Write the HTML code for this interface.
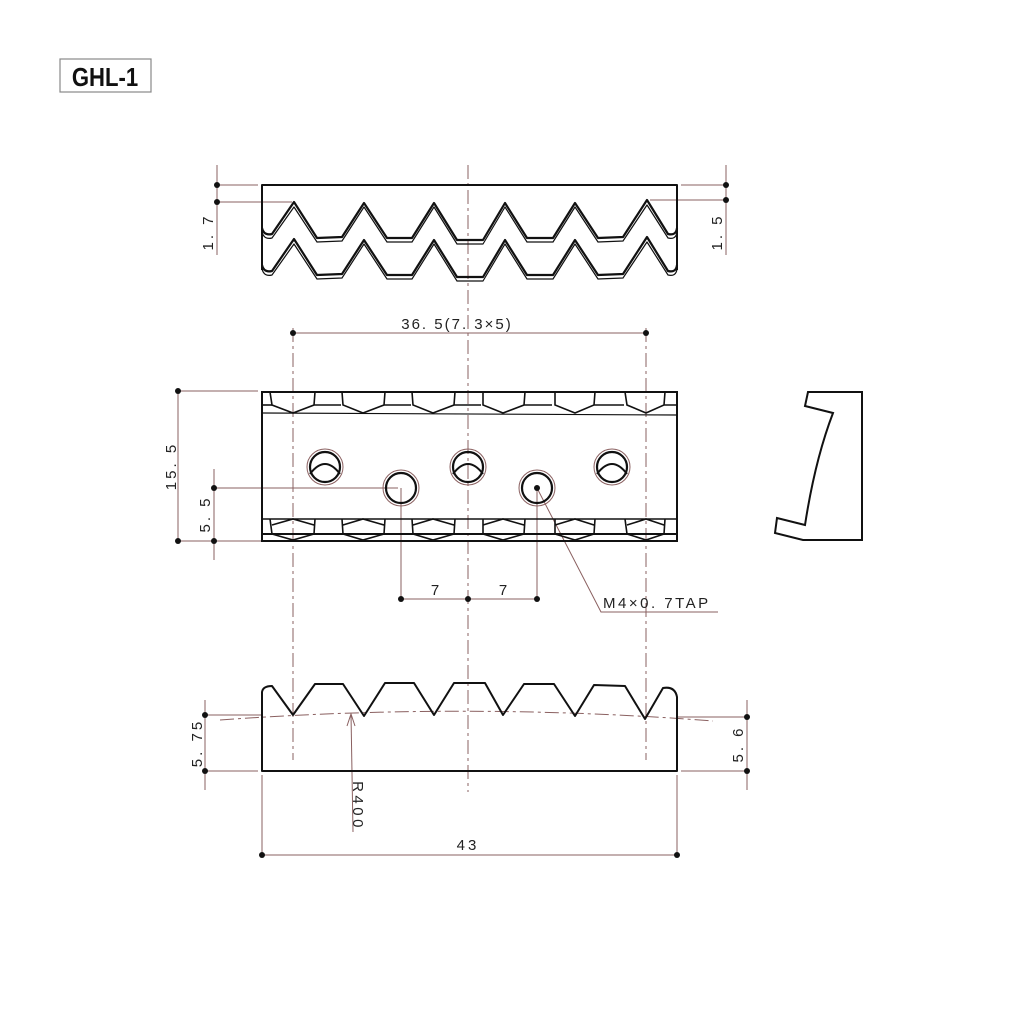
<!DOCTYPE html>
<html><head><meta charset="utf-8"><style>
html,body{margin:0;padding:0;background:#fff;}
svg{display:block;}
text{font-family:"Liberation Sans",sans-serif;fill:#222;}
</style></head><body>
<svg width="1024" height="1024" viewBox="0 0 1024 1024" xmlns="http://www.w3.org/2000/svg">
<rect width="1024" height="1024" fill="#fff"/>
<!-- Title -->
<rect x="60" y="59" width="91" height="33" fill="none" stroke="#888" stroke-width="1.2"/>
<text x="105" y="86" font-size="26" font-weight="bold" text-anchor="middle" transform="translate(105,0) scale(0.85,1) translate(-105,0)" style="fill:#111">GHL-1</text>

<g stroke="#8a6060" stroke-width="1" fill="none">
  <line x1="468" y1="165" x2="468" y2="792" stroke-dasharray="14,4,3,4"/>
  <line x1="217" y1="165" x2="217" y2="255"/>
  <line x1="217" y1="185" x2="258" y2="185"/>
  <line x1="217" y1="202" x2="292" y2="202"/>
  <line x1="726" y1="165" x2="726" y2="255"/>
  <line x1="681" y1="185" x2="726" y2="185"/>
  <line x1="650" y1="200" x2="726" y2="200"/>
  <line x1="293" y1="333" x2="646" y2="333"/>
  <line x1="293" y1="328" x2="293" y2="760" stroke-dasharray="14,4,3,4"/>
  <line x1="646" y1="328" x2="646" y2="760" stroke-dasharray="14,4,3,4"/>
  <line x1="178" y1="391" x2="178" y2="541"/>
  <line x1="178" y1="391" x2="258" y2="391"/>
  <line x1="178" y1="541" x2="262" y2="541"/>
  <line x1="214" y1="469" x2="214" y2="560"/>
  <line x1="214" y1="488" x2="398" y2="488"/>
  <line x1="401" y1="488" x2="401" y2="599"/>
  <line x1="537" y1="488" x2="537" y2="599"/>
  <line x1="401" y1="599" x2="537" y2="599"/>
  <polyline points="537,488 601,612 718,612"/>
  <line x1="205" y1="700" x2="205" y2="790"/>
  <line x1="205" y1="771" x2="258" y2="771"/>
  <line x1="747" y1="700" x2="747" y2="790"/>
  <line x1="681" y1="771" x2="747" y2="771"/>
  <line x1="205" y1="715" x2="262" y2="715"/>
  <line x1="677" y1="717" x2="747" y2="717"/>
  <path d="M220,720 Q468,702 713,721" stroke-dasharray="14,4,3,4"/>
  <line x1="351" y1="714" x2="353" y2="832"/>
  <polyline points="347,726 351,714 355,726"/>
  <line x1="262" y1="775" x2="262" y2="855"/>
  <line x1="677" y1="775" x2="677" y2="855"/>
  <line x1="262" y1="855" x2="677" y2="855"/>
</g>
<g fill="#111">
  <circle cx="217" cy="185" r="3"/><circle cx="217" cy="202" r="3"/>
  <circle cx="726" cy="185" r="3"/><circle cx="726" cy="200" r="3"/>
  <circle cx="293" cy="333" r="3"/><circle cx="646" cy="333" r="3"/>
  <circle cx="178" cy="391" r="3"/><circle cx="178" cy="541" r="3"/>
  <circle cx="214" cy="488" r="3"/><circle cx="214" cy="541" r="3"/>
  <circle cx="401" cy="599" r="3"/><circle cx="468" cy="599" r="3"/><circle cx="537" cy="599" r="3"/>
  <circle cx="537" cy="488" r="3"/>
  <circle cx="205" cy="715" r="3"/><circle cx="205" cy="771" r="3"/>
  <circle cx="747" cy="717" r="3"/><circle cx="747" cy="771" r="3"/>
  <circle cx="262" cy="855" r="3"/><circle cx="677" cy="855" r="3"/>
</g>

<g font-size="15">
  <text transform="translate(213,232) rotate(-90)" text-anchor="middle" letter-spacing="3">1. 7</text>
  <text transform="translate(722,232) rotate(-90)" text-anchor="middle" letter-spacing="3">1. 5</text>
  <text x="457" y="329" text-anchor="middle" letter-spacing="2">36. 5(7. 3×5)</text>
  <text transform="translate(176,466) rotate(-90)" text-anchor="middle" letter-spacing="3">15. 5</text>
  <text transform="translate(210,514) rotate(-90)" text-anchor="middle" letter-spacing="3">5. 5</text>
  <text x="435" y="595" text-anchor="middle">7</text>
  <text x="503" y="595" text-anchor="middle">7</text>
  <text x="603" y="608" letter-spacing="2.5">M4×0. 7TAP</text>
  <text transform="translate(202,743) rotate(-90)" text-anchor="middle" letter-spacing="3">5. 75</text>
  <text transform="translate(743,744) rotate(-90)" text-anchor="middle" letter-spacing="3">5. 6</text>
  <text transform="translate(353,806) rotate(90)" text-anchor="middle" letter-spacing="3.5">R400</text>
  <text x="468" y="850" text-anchor="middle" letter-spacing="3">43</text>
</g>

<g fill="none" stroke="#111" stroke-linejoin="round">
  <path d="M262,270 L262,185 L677,185 L677,270" stroke-width="2"/>
  <g>
    <path d="M262,228 Q264,236 272,234 L294,202 L317,238 L342,237 L364,203 L387,238 L412,238 L434,203 L457,240 L483,240 L505,203 L527,238 L553,238 L575,203 L598,238 L623,237 L647,200 L668,234 Q676,236 677,228" stroke-width="2.2"/>
    <path d="M262,232 Q264,240 272,238 L294,207 L317,242 L342,241 L364,207 L387,242 L412,242 L434,207 L457,244 L483,244 L505,207 L527,242 L553,242 L575,207 L598,242 L623,241 L647,205 L668,238 Q676,240 677,232" stroke-width="1.2"/>
  </g>
  <g transform="translate(0,37)">
    <path d="M262,228 Q264,236 272,234 L294,202 L317,238 L342,237 L364,203 L387,238 L412,238 L434,203 L457,240 L483,240 L505,203 L527,238 L553,238 L575,203 L598,238 L623,237 L647,200 L668,234 Q676,236 677,228" stroke-width="2.2"/>
    <path d="M262,232 Q264,240 272,238 L294,207 L317,242 L342,241 L364,207 L387,242 L412,242 L434,207 L457,244 L483,244 L505,207 L527,242 L553,242 L575,207 L598,242 L623,241 L647,205 L668,238 Q676,240 677,232" stroke-width="1.2"/>
  </g>
</g>

<g fill="none" stroke="#111">
  <rect x="262" y="392" width="415" height="149" stroke-width="2"/>
  <line x1="262" y1="413" x2="677" y2="415" stroke-width="1.2"/>
  <line x1="262" y1="534" x2="677" y2="534" stroke-width="2"/>
  <line x1="262" y1="519" x2="677" y2="519" stroke-width="1.4"/>
  <g stroke-width="1.6">
    <path d="M270,392 L272,405 L293,413 L314,405 L315,392 M314,405 L341,405"/>
    <path d="M342,392 L343,405 L363,413 L384,405 L385,392 M384,405 L411,405"/>
    <path d="M412,392 L413,405 L433,413 L454,405 L455,392 M454,405 L481,405"/>
    <path d="M483,392 L483,405 L503,413 L524,405 L525,392 M524,405 L552,405"/>
    <path d="M555,392 L555,405 L575,413 L594,405 L595,392 M594,405 L624,405"/>
    <path d="M625,392 L627,405 L646,413 L664,405 L665,392 M664,405 L677,405"/>
    <path d="M262,405 L272,405"/>
    <path d="M270,519 L272,534 M272,525 L293,519 L314,525 M272,534 L293,540 L314,534 M315,519 L314,534"/>
    <path d="M342,519 L343,534 M343,525 L363,519 L384,525 M343,534 L363,540 L384,534 M385,519 L384,534"/>
    <path d="M412,519 L413,534 M413,525 L433,519 L454,525 M413,534 L433,540 L454,534 M455,519 L454,534"/>
    <path d="M483,519 L483,534 M483,525 L503,519 L524,525 M483,534 L503,540 L524,534 M525,519 L524,534"/>
    <path d="M555,519 L555,534 M555,525 L575,519 L594,525 M555,534 L575,540 L594,534 M595,519 L594,534"/>
    <path d="M625,519 L627,534 M627,525 L646,519 L664,525 M627,534 L646,540 L664,534 M665,519 L664,534"/>
  </g>
  <g>
    <circle cx="325" cy="467" r="18" stroke="#8a6060" stroke-width="1"/>
    <circle cx="325" cy="467" r="15" stroke-width="2.2"/>
    <path d="M310,474 Q325,454 340,474" stroke-width="2"/>
    <circle cx="468" cy="467" r="18" stroke="#8a6060" stroke-width="1"/>
    <circle cx="468" cy="467" r="15" stroke-width="2.2"/>
    <path d="M453,474 Q468,454 483,474" stroke-width="2"/>
    <circle cx="612" cy="467" r="18" stroke="#8a6060" stroke-width="1"/>
    <circle cx="612" cy="467" r="15" stroke-width="2.2"/>
    <path d="M597,474 Q612,454 627,474" stroke-width="2"/>
    <circle cx="401" cy="488" r="18" stroke="#8a6060" stroke-width="1"/>
    <circle cx="401" cy="488" r="15" stroke-width="2.2"/>
    <circle cx="537" cy="488" r="18" stroke="#8a6060" stroke-width="1"/>
    <circle cx="537" cy="488" r="15" stroke-width="2.2"/>
  </g>
  <path d="M808,392 L862,392 L862,540 L803,540 L775,533 L777,518 L805,525 Q815,460 833,413 L805,406 Z" stroke-width="2"/>
</g>

<path d="M262,771 L262,692 Q263,686 272,686 L293,715 L315,684 L343,684 L364,716 L385,683 L414,683 L434,715 L454,683 L485,683 L503,715 L524,684 L554,684 L575,716 L594,685 L625,686 L645,719 L663,688 Q675,686 677,697 L677,771 Z" fill="none" stroke="#111" stroke-width="2" stroke-linejoin="round"/>
</svg>
</body></html>
